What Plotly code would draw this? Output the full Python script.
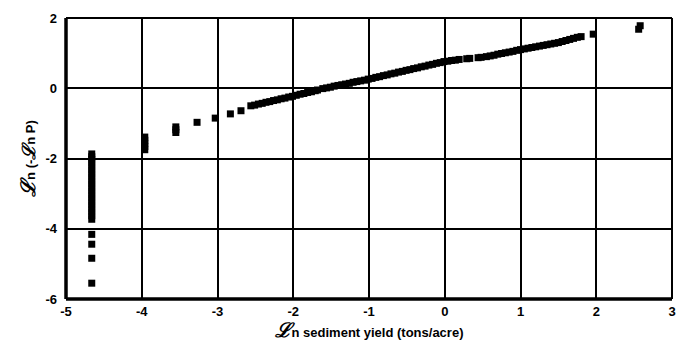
import plotly.graph_objects as go

# Column at the lowest sediment yield
col1_x = [-4.66] * 24
col1_y = [-5.55, -4.84, -4.44, -4.16, -3.73, -3.63, -3.53, -3.43, -3.33, -3.23,
          -3.13, -3.03, -2.93, -2.83, -2.73, -2.63, -2.53, -2.43, -2.33, -2.23,
          -2.13, -2.03, -1.95, -1.87]
col2_x = [-3.96] * 5
col2_y = [-1.75, -1.66, -1.57, -1.48, -1.39]
col3_x = [-3.55] * 3
col3_y = [-1.26, -1.18, -1.10]

# Isolated points and the main curve
curve_x = [-3.27, -3.03, -2.83, -2.69,
           -2.56, -2.51, -2.46, -2.41, -2.36, -2.31, -2.26, -2.21, -2.16, -2.11,
           -2.06, -2.01, -1.96, -1.91, -1.86, -1.81, -1.76, -1.71, -1.68,
           -1.61, -1.56, -1.51, -1.46, -1.41, -1.36, -1.31, -1.26, -1.21, -1.16,
           -1.11, -1.06, -1.01, -0.96, -0.91, -0.86, -0.81, -0.76, -0.71, -0.66,
           -0.61, -0.56, -0.51, -0.46, -0.41, -0.36, -0.31, -0.26, -0.21, -0.16,
           -0.11, -0.06, -0.01, 0.04, 0.09, 0.14, 0.19,
           0.29, 0.33, 0.44, 0.48,
           0.55, 0.60, 0.65, 0.70, 0.75, 0.80, 0.85, 0.90, 0.95, 1.00, 1.05, 1.10,
           1.15, 1.20, 1.25, 1.30, 1.35, 1.40, 1.45, 1.50, 1.55, 1.60, 1.65, 1.70,
           1.75, 1.80,
           1.96, 2.56, 2.58]
curve_y = [-0.97, -0.85, -0.73, -0.64,
           -0.50, -0.48, -0.45, -0.43, -0.40, -0.38, -0.35, -0.33, -0.30, -0.28,
           -0.25, -0.23, -0.20, -0.17, -0.15, -0.12, -0.10, -0.07, -0.05,
           -0.01, 0.01, 0.03, 0.06, 0.08, 0.10, 0.12, 0.14, 0.17, 0.19,
           0.21, 0.23, 0.26, 0.28, 0.31, 0.33, 0.36, 0.38, 0.41, 0.43,
           0.46, 0.48, 0.51, 0.53, 0.56, 0.58, 0.61, 0.63, 0.66, 0.68,
           0.71, 0.73, 0.76, 0.77, 0.79, 0.80, 0.82,
           0.84, 0.85, 0.87, 0.88,
           0.90, 0.92, 0.94, 0.97, 0.99, 1.01, 1.03, 1.05, 1.08, 1.10, 1.12, 1.14,
           1.16, 1.18, 1.20, 1.22, 1.24, 1.26, 1.28, 1.30, 1.33, 1.36, 1.39, 1.42,
           1.45, 1.47,
           1.54, 1.68, 1.78]

x_ticks = [-5, -4, -3, -2, -1, 0, 1, 2, 3]
y_ticks = [-6, -4, -2, 0, 2]

xs = col1_x + col2_x + col3_x + curve_x
ys = col1_y + col2_y + col3_y + curve_y

fig = go.Figure()
fig.add_trace(go.Scatter(
    x=xs, y=ys, mode="markers",
    marker=dict(symbol="square", size=7, color="black", line=dict(width=0)),
    showlegend=False, hoverinfo="skip"))

tickfont = dict(family="Liberation Sans", size=13, color="black")

fig.update_layout(
    width=687, height=348,
    margin=dict(l=66, r=11, t=17, b=49),
    paper_bgcolor="white", plot_bgcolor="white",
    font=dict(family="Liberation Sans", color="black"),
    xaxis=dict(range=[-5, 3], tickvals=x_ticks, ticktext=["<b>%d</b>" % v for v in x_ticks],
               showgrid=True, gridcolor="black", gridwidth=2,
               zeroline=False, showline=False, ticks="",
               tickfont=tickfont, ticklabelstandoff=3,
               title=dict(text="<b><i><span style='font-size:20px'>ℒ</span></i>n sediment yield (tons/acre)</b>",
                          font=dict(size=13, family="Liberation Sans"), standoff=3)),
    yaxis=dict(range=[-6, 2], tickvals=y_ticks, ticktext=["<b>%d</b>" % v for v in y_ticks],
               showgrid=True, gridcolor="black", gridwidth=2,
               zeroline=False, showline=False, ticks="",
               tickfont=tickfont, ticklabelstandoff=8,
               title=dict(text="<b><i><span style='font-size:20px'>ℒ</span></i>n (-<i><span style='font-size:18px'>ℒ</span></i>n P)</b>",
                          font=dict(size=13, family="Liberation Sans"), standoff=6)),
    shapes=[
        dict(type="line", xref="paper", yref="paper", x0=0, x1=0, y0=0, y1=1,
             line=dict(color="black", width=3.5)),
        dict(type="line", xref="paper", yref="paper", x0=0, x1=1, y0=0, y1=0,
             line=dict(color="black", width=3.5)),
        dict(type="line", xref="paper", yref="paper", x0=0, x1=1, y0=1, y1=1,
             line=dict(color="black", width=2)),
        dict(type="line", xref="paper", yref="paper", x0=1, x1=1, y0=0, y1=1,
             line=dict(color="black", width=2)),
    ],
)

fig.write_html("out.html")
